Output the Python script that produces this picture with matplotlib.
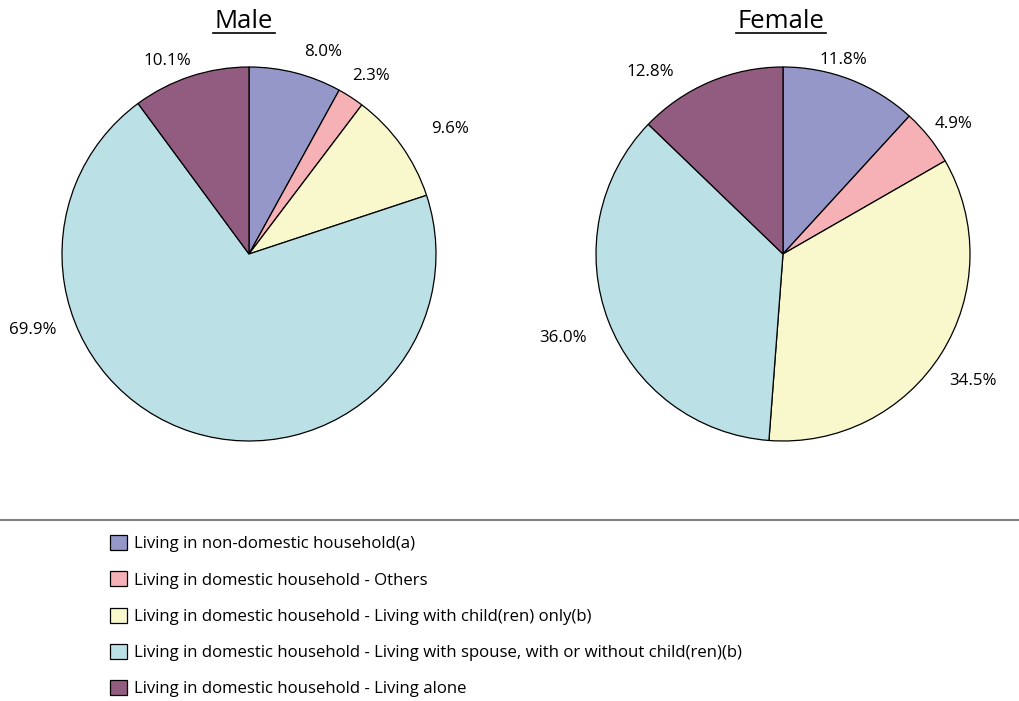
import matplotlib
matplotlib.use("Agg")
import matplotlib.pyplot as plt
from matplotlib.lines import Line2D
import numpy as np

plt.rcParams['font.family'] = ['Open Sans', 'DejaVu Sans']

categories = [
    "Living in non-domestic household(a)",
    "Living in domestic household - Others",
    "Living in domestic household - Living with child(ren) only(b)",
    "Living in domestic household - Living with spouse, with or without child(ren)(b)",
    "Living in domestic household - Living alone",
]
male_values = [8.0, 2.3, 9.6, 69.9, 10.1]
female_values = [11.8, 4.9, 34.5, 36.0, 12.8]
titles = ["Male", "Female"]

colors = ["#9497c8", "#f5b1b5", "#f9f7cc", "#bbe1e7", "#925c80"]

# label positions (in pie-radius units) mimicking the original placement
male_label_pos = [(0.396, 1.080), (0.652, 0.952), (1.075, 0.668), (-1.155, -0.406), (-0.439, 1.032)]
female_label_pos = [(0.321, 1.037), (0.914, 0.695), (1.016, -0.679), (-1.176, -0.449), (-0.711, 0.973)]

W, H = 1019, 701
fig = plt.figure(figsize=(W / 100, H / 100), dpi=100)

R = 187
centers = [(249, 254), (783, 254)]
axes = []
for (cx, cy), vals, title, lpos in zip(centers, [male_values, female_values], titles,
                                       [male_label_pos, female_label_pos]):
    ax = fig.add_axes([(cx - R) / W, 1 - (cy + R) / H, 2 * R / W, 2 * R / H])
    wedges, texts = ax.pie(vals, colors=colors, startangle=90, counterclock=False,
                           labels=[f"{v:.1f}%" for v in vals],
                           wedgeprops=dict(edgecolor="black", linewidth=0.9),
                           textprops=dict(fontsize=12.2))
    for t, p in zip(texts, lpos):
        t.set_position(p)
        t.set_ha("center")
        t.set_va("center")
    ax.set_xlim(-1, 1)
    ax.set_ylim(-1, 1)
    ax.set_aspect("equal")
    ax.axis("off")
    axes.append((ax, wedges))

# titles with underline
title_x = [244, 781]
title_texts = []
for tx, title in zip(title_x, titles):
    t = fig.text(tx / W, 1 - 22 / H, title, ha="center", va="center", fontsize=18.5)
    title_texts.append(t)

fig.canvas.draw()
renderer = fig.canvas.get_renderer()
for t in title_texts:
    bb = t.get_window_extent(renderer)
    y = 1 - 33 / H
    fig.add_artist(Line2D([bb.x0 / W - 0.002, bb.x1 / W + 0.002], [y, y], color="black", lw=1.2,
                          transform=fig.transFigure))

# separator line
fig.add_artist(Line2D([0, 1], [1 - 520 / H, 1 - 520 / H], color="#808080", lw=1.5,
                      transform=fig.transFigure))

# legend
wedges = axes[0][1]
leg = fig.legend(wedges, categories, loc="upper left",
                 bbox_to_anchor=(110 / W, 1 - 535 / H), frameon=False,
                 fontsize=12.1, handlelength=1.0, handleheight=1.0,
                 handletextpad=0.42, labelspacing=1.13, borderpad=0, borderaxespad=0)

fig.savefig("out.png", dpi=100)
